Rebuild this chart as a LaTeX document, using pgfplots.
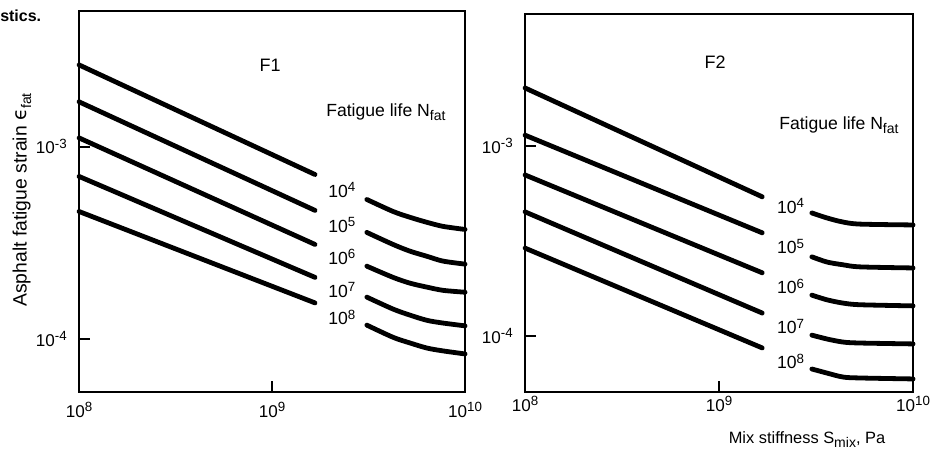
\documentclass[border=0pt]{standalone}
\usepackage{pgfplots}
\pgfplotsset{compat=1.18}
\usepackage{fontspec}
\setmainfont{Liberation Sans}
\newfontfamily\dv{DejaVu Sans}
\newcommand{\ann}{\fontsize{13.2}{16}\selectfont}
\newcommand{\tkf}{\fontsize{12.8}{15}\selectfont}
\newcommand{\sups}[1]{\raisebox{0.62ex}{\fontsize{10}{12}\selectfont #1}}
\newcommand{\subs}[1]{\raisebox{-0.45ex}{\fontsize{10.5}{12}\selectfont #1}}
\tikzset{crv/.style={black, line width=3.6pt, line cap=round, mark=none}}
\begin{document}
\begin{tikzpicture}[x=0.75pt,y=0.75pt]
\useasboundingbox (0,0) rectangle (941,449);
\node[anchor=west, inner sep=0pt, font=\fontsize{12}{14}\selectfont\bfseries] at (0,433) {stics.};
\node[rotate=90, font=\fontsize{14.5}{17}\selectfont] at (22,249) {Asphalt fatigue strain {\dv ϵ}\subs{fat}};
\node[font=\fontsize{12.3}{15}\selectfont] at (807,9) {Mix stiffness S\subs{mix}, Pa};

% ---------------- F1 ----------------
\begin{axis}[xmode=log, ymode=log, scale only axis, anchor=south west,
  at={(59.25pt,42.75pt)}, width=289.5pt, height=285.75pt,
  xmin=1e8, xmax=1e10, ymin=5.3e-5, ymax=5.07e-3,
  xtick={1e8,1e9,1e10},
  xticklabels={10\sups{8},10\sups{9},10\sups{10}},
  ytick={1e-4,1e-3},
  yticklabels={10\sups{-4},10\sups{-3}},
  xminorticks=false, yminorticks=false,
  tick pos=left, tick align=inside, major tick length=8pt,
  tick style={line width=1.4pt, black},
  clip=false,
  ticklabel style={font=\tkf},
  yticklabel style={anchor=east, inner sep=0pt, xshift=-9pt},
  xticklabel style={anchor=center, inner sep=0pt, yshift=-13.5pt}]
\addplot[crv] coordinates {(1e8,2.66e-3) (1.67e9,7.16e-4)};
\addplot[crv] coordinates {(1e8,1.71e-3) (1.67e9,4.66e-4)};
\addplot[crv] coordinates {(1e8,1.11e-3) (1.67e9,3.10e-4)};
\addplot[crv] coordinates {(1e8,7.0e-4) (1.67e9,2.09e-4)};
\addplot[crv] coordinates {(1e8,4.6e-4) (1.67e9,1.54e-4)};
\addplot[crv, smooth] coordinates {(3.1e9,5.31e-4) (4.24e9,4.60e-4) (5.19e9,4.29e-4) (6.35e9,4.04e-4) (7.69e9,3.85e-4) (1e10,3.71e-4)};
\addplot[crv, smooth] coordinates {(3.1e9,3.58e-4) (4.24e9,3.10e-4) (5.19e9,2.86e-4) (6.35e9,2.69e-4) (7.69e9,2.54e-4) (1e10,2.45e-4)};
\addplot[crv, smooth] coordinates {(3.1e9,2.39e-4) (4.24e9,2.09e-4) (5.19e9,1.95e-4) (6.35e9,1.86e-4) (7.69e9,1.79e-4) (1e10,1.75e-4)};
\addplot[crv, smooth] coordinates {(3.1e9,1.65e-4) (4.24e9,1.43e-4) (5.19e9,1.33e-4) (6.35e9,1.25e-4) (7.69e9,1.21e-4) (1e10,1.17e-4)};
\addplot[crv, smooth] coordinates {(3.1e9,1.18e-4) (4.24e9,1.02e-4) (5.19e9,9.53e-5) (6.35e9,8.97e-5) (7.69e9,8.67e-5) (1e10,8.36e-5)};
\draw[line width=2pt] (rel axis cs:0,0) rectangle (rel axis cs:1,1);
\node[font=\fontsize{13.5}{16}\selectfont] at (rel axis cs:0.495,0.858) {F1};
\node[font=\ann] at (rel axis cs:0.795,0.735) {Fatigue life N\subs{fat}};
\node[font=\ann, anchor=west, inner sep=0pt] at (rel axis cs:0.645,0.531) {10\sups{4}};
\node[font=\ann, anchor=west, inner sep=0pt] at (rel axis cs:0.645,0.439) {10\sups{5}};
\node[font=\ann, anchor=west, inner sep=0pt] at (rel axis cs:0.645,0.354) {10\sups{6}};
\node[font=\ann, anchor=west, inner sep=0pt] at (rel axis cs:0.645,0.268) {10\sups{7}};
\node[font=\ann, anchor=west, inner sep=0pt] at (rel axis cs:0.645,0.196) {10\sups{8}};
\end{axis}

% ---------------- F2 ----------------
\begin{axis}[xmode=log, ymode=log, scale only axis, anchor=south west,
  at={(393.75pt,42.75pt)}, width=291pt, height=283.5pt,
  xmin=1e8, xmax=1e10, ymin=5.07e-5, ymax=4.95e-3,
  xtick={1e8,1e9,1e10},
  xticklabels={10\sups{8},10\sups{9},10\sups{10}},
  ytick={1e-4,1e-3},
  yticklabels={10\sups{-4},10\sups{-3}},
  xminorticks=false, yminorticks=false,
  tick pos=left, tick align=inside, major tick length=8pt,
  tick style={line width=1.4pt, black},
  clip=false,
  ticklabel style={font=\tkf},
  yticklabel style={anchor=east, inner sep=0pt, xshift=-9pt},
  xticklabel style={anchor=center, inner sep=0pt, yshift=-9pt}]
\addplot[crv] coordinates {(1e8,2.02e-3) (1.67e9,5.4e-4)};
\addplot[crv] coordinates {(1e8,1.14e-3) (1.67e9,3.49e-4)};
\addplot[crv] coordinates {(1e8,7.04e-4) (1.67e9,2.15e-4)};
\addplot[crv] coordinates {(1e8,4.5e-4) (1.67e9,1.32e-4)};
\addplot[crv] coordinates {(1e8,2.9e-4) (1.67e9,8.65e-5)};
\addplot[crv, smooth] coordinates {(3.01e9,4.44e-4) (3.6e9,4.18e-4) (4.35e9,3.98e-4) (5.33e9,3.88e-4) (1e10,3.84e-4)};
\addplot[crv, smooth] coordinates {(3.01e9,2.61e-4) (3.6e9,2.45e-4) (4.35e9,2.37e-4) (5.33e9,2.31e-4) (1e10,2.28e-4)};
\addplot[crv, smooth] coordinates {(3.01e9,1.64e-4) (3.6e9,1.55e-4) (4.35e9,1.49e-4) (5.33e9,1.46e-4) (1e10,1.44e-4)};
\addplot[crv, smooth] coordinates {(3.01e9,1.01e-4) (3.6e9,9.64e-5) (4.35e9,9.29e-5) (5.33e9,9.18e-5) (1e10,9.08e-5)};
\addplot[crv, smooth] coordinates {(3.01e9,6.70e-5) (3.6e9,6.38e-5) (4.35e9,6.08e-5) (5.33e9,6.01e-5) (1e10,5.94e-5)};
\draw[line width=2pt] (rel axis cs:0,0) rectangle (rel axis cs:1,1);
\node[font=\fontsize{13.5}{16}\selectfont] at (rel axis cs:0.490,0.873) {F2};
\node[font=\ann] at (rel axis cs:0.809,0.706) {Fatigue life N\subs{fat}};
\node[font=\ann, anchor=west, inner sep=0pt] at (rel axis cs:0.649,0.493) {10\sups{4}};
\node[font=\ann, anchor=west, inner sep=0pt] at (rel axis cs:0.649,0.385) {10\sups{5}};
\node[font=\ann, anchor=west, inner sep=0pt] at (rel axis cs:0.649,0.279) {10\sups{6}};
\node[font=\ann, anchor=west, inner sep=0pt] at (rel axis cs:0.649,0.173) {10\sups{7}};
\node[font=\ann, anchor=west, inner sep=0pt] at (rel axis cs:0.649,0.081) {10\sups{8}};
\end{axis}
\end{tikzpicture}
\end{document}
